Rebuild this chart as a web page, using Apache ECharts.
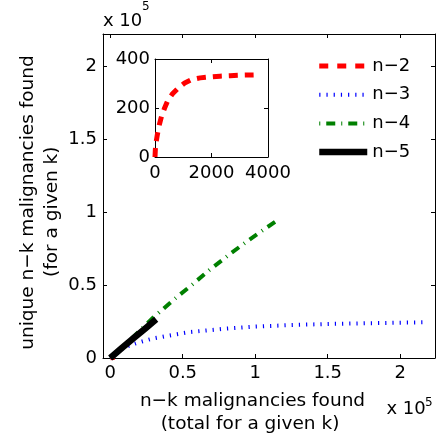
<!DOCTYPE html>
<html><head><meta charset="utf-8">
<script src="https://cdn.jsdelivr.net/npm/echarts@6/dist/echarts.min.js"></script>
<style>html,body{margin:0;padding:0;background:#fff}#c{width:440px;height:438px}</style>
</head><body><div id="c"></div>
<script>
// ---- data (values in raw units; main axes labelled in units of 10^5) ----
const seriesNames = ['n−2', 'n−3', 'n−4', 'n−5'];
const n2X = [0, 12, 35, 83, 150, 237, 340, 450, 620, 828, 1050, 1302, 1600, 1953, 2300, 2663, 3100, 3491];
const n2Y = [0, 30, 57, 91, 130, 169, 200, 230, 258, 282, 302, 316, 323, 327, 330, 332, 334, 335];
const n3X = [0, 2000, 5000, 10000, 15000, 20000, 30000, 40000, 55000, 78500, 100000, 125000, 150000, 175000, 200000, 219000];
const n3Y = [0, 2000, 4500, 7200, 9200, 10800, 13500, 15300, 17800, 20000, 21500, 22600, 23300, 23800, 24200, 24500];
const n4X = [0, 10000, 20000, 29500, 45400, 56800, 68200, 83100, 95600, 107100, 113900];
const n4Y = [0, 9000, 18300, 27600, 41300, 50500, 60100, 71700, 80800, 88800, 93400];
const n5X = [0, 8000, 16000, 24000, 31700];
const n5Y = [0, 6800, 13500, 20100, 26500];
const mainXTicks = [0, 50000, 100000, 150000, 200000];
const mainYTicks = [0, 50000, 100000, 150000, 200000];
const insetXTicks = [0, 2000, 4000];
const insetYTicks = [0, 200, 400];
const xTitle = ['n−k malignancies found', '(total for a given k)'];
const yTitle = ['unique n−k malignancies found', '(for a given k)'];

const FONT = 'DejaVu Sans';
const zip = (xs, ys) => xs.map((x, i) => [x, ys[i]]);
const sci = v => String(+(v / 1e5).toFixed(2));

function axis(pos, gridIndex, min, max, ticks, showLabels, fmt, margin) {
  return {
    type: 'value', gridIndex: gridIndex, position: pos, min: min, max: max,
    axisLine: { show: true, onZero: false, lineStyle: { color: '#000', width: 1 } },
    axisTick: { show: true, inside: true, length: 4, customValues: ticks, lineStyle: { color: '#000', width: 1 } },
    axisLabel: { show: showLabels, customValues: ticks, formatter: fmt, fontFamily: FONT, fontSize: 18, color: '#000', margin: margin },
    splitLine: { show: false }
  };
}

const chart = echarts.init(document.getElementById('c'), null, { renderer: 'canvas' });
const line = (name, xs, ys, xi, yi, style, z) => ({
  type: 'line', name: name, xAxisIndex: xi, yAxisIndex: yi, data: zip(xs, ys),
  symbol: 'none', showSymbol: false, smooth: false, z: z,
  lineStyle: style, itemStyle: { color: style.color }, emphasis: { disabled: true }
});

chart.setOption({
  animation: false,
  backgroundColor: '#fff',
  grid: [
    { left: 103, top: 34, width: 332, height: 324, outerBoundsMode: 'none', containLabel: false },
    { left: 155, top: 59, width: 113, height: 98, outerBoundsMode: 'none', containLabel: false }
  ],
  xAxis: [
    axis('bottom', 0, -5000, 224000, mainXTicks, true, sci, 6),
    axis('top', 0, -5000, 224000, mainXTicks, false, sci, 6),
    axis('bottom', 1, 0, 4000, insetXTicks, true, v => String(v), 7),
    axis('top', 1, 0, 4000, insetXTicks, false, v => String(v), 7)
  ],
  yAxis: [
    axis('left', 0, 0, 222000, mainYTicks, true, sci, 6),
    axis('right', 0, 0, 222000, mainYTicks, false, sci, 6),
    axis('left', 1, 0, 400, insetYTicks, true, v => String(v), 5),
    axis('right', 1, 0, 400, insetYTicks, false, v => String(v), 5)
  ],
  legend: {
    data: seriesNames, orient: 'vertical', left: 316, top: 57, padding: 0,
    itemWidth: 48, itemHeight: 12, itemGap: 10.7, selectedMode: false,
    textStyle: { fontFamily: FONT, fontSize: 18, color: '#000', lineHeight: 18 },
    itemStyle: { opacity: 0 },
    lineStyle: { width: 'inherit', type: 'inherit' }
  },
  series: [
    line(seriesNames[0], n2X, n2Y, 0, 0, { color: '#ff0000', width: 5, type: [9, 9] }, 2),
    line(seriesNames[1], n3X, n3Y, 0, 0, { color: '#0000ff', width: 4, type: [1.2, 6] }, 3),
    line(seriesNames[2], n4X, n4Y, 0, 0, { color: '#008000', width: 4, type: [1, 6, 9, 6] }, 4),
    line(seriesNames[3], n5X, n5Y, 0, 0, { color: '#000000', width: 6.5, type: 'solid' }, 5),
    line('n−2 inset', n2X, n2Y, 2, 2, { color: '#ff0000', width: 5, type: [9, 7] }, 6)
  ],
  graphic: [
    { type: 'text', x: 252.5, y: 401, style: { text: xTitle[0], font: '18.5px "DejaVu Sans"', fill: '#000', align: 'center', verticalAlign: 'middle' } },
    { type: 'text', x: 250, y: 424, style: { text: xTitle[1], font: '18.5px "DejaVu Sans"', fill: '#000', align: 'center', verticalAlign: 'middle' } },
    { type: 'text', x: 28, y: 202.5, rotation: Math.PI / 2, style: { text: yTitle[0], font: '18.5px "DejaVu Sans"', fill: '#000', align: 'center', verticalAlign: 'middle' } },
    { type: 'text', x: 52, y: 211.7, rotation: Math.PI / 2, style: { text: yTitle[1], font: '18.5px "DejaVu Sans"', fill: '#000', align: 'center', verticalAlign: 'middle' } },
    { type: 'text', x: 103, y: 21, style: { text: 'x 10', font: '18px "DejaVu Sans"', fill: '#000', align: 'left', verticalAlign: 'middle' } },
    { type: 'text', x: 142, y: 7, style: { text: '5', font: '12px "DejaVu Sans"', fill: '#000', align: 'left', verticalAlign: 'middle' } },
    { type: 'text', x: 386.5, y: 409, style: { text: 'x 10', font: '18px "DejaVu Sans"', fill: '#000', align: 'left', verticalAlign: 'middle' } },
    { type: 'text', x: 425, y: 402.5, style: { text: '5', font: '12px "DejaVu Sans"', fill: '#000', align: 'left', verticalAlign: 'middle' } }
  ]
});
</script></body></html>
